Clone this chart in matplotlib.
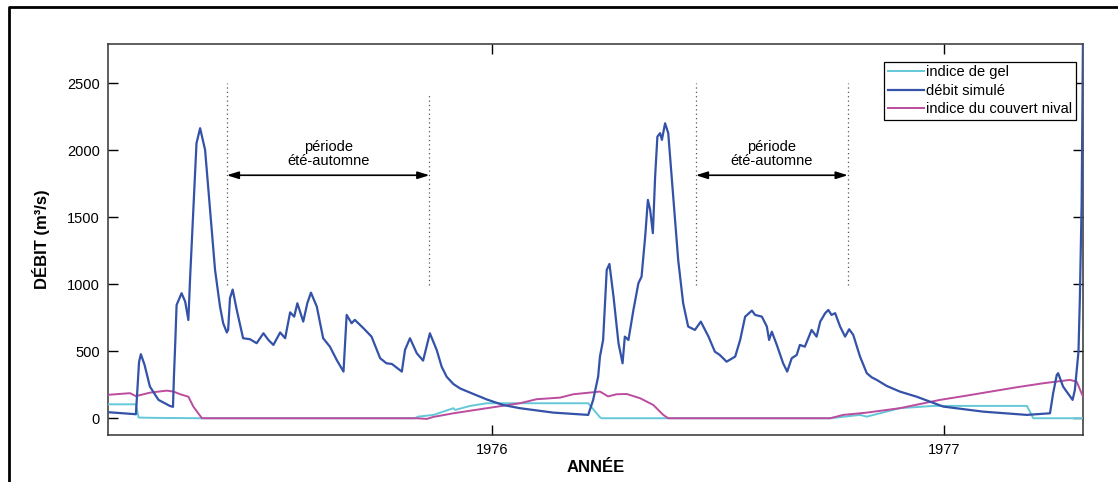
import matplotlib
matplotlib.use("Agg")
import matplotlib.pyplot as plt
from matplotlib.lines import Line2D

plt.rcParams['font.family'] = ['Liberation Sans', 'DejaVu Sans']

# ---- data (decimal year, m3/s) ----
debit_x = [1975.152, 1975.180, 1975.213, 1975.216, 1975.220, 1975.224, 1975.232, 1975.244, 1975.263, 1975.288,
           1975.295, 1975.297, 1975.300, 1975.303, 1975.314, 1975.322, 1975.329, 1975.333, 1975.340, 1975.347,
           1975.355, 1975.366, 1975.377, 1975.388, 1975.399, 1975.406, 1975.414, 1975.417, 1975.421, 1975.427,
           1975.436, 1975.450, 1975.465, 1975.480, 1975.495, 1975.506, 1975.517, 1975.532, 1975.543, 1975.554,
           1975.563, 1975.570, 1975.583, 1975.592, 1975.600, 1975.613, 1975.627, 1975.642, 1975.657, 1975.672,
           1975.679, 1975.690, 1975.697, 1975.716, 1975.734, 1975.753, 1975.767, 1975.779, 1975.801, 1975.808,
           1975.819, 1975.834, 1975.848, 1975.863, 1975.878, 1975.889, 1975.900, 1975.915, 1975.930, 1975.952,
           1975.989, 1976.025, 1976.062, 1976.136, 1976.213, 1976.224, 1976.235, 1976.239, 1976.246, 1976.254,
           1976.260, 1976.269, 1976.280, 1976.289, 1976.294, 1976.302, 1976.313, 1976.324, 1976.331, 1976.339,
           1976.345, 1976.350, 1976.356, 1976.361, 1976.366, 1976.372, 1976.376, 1976.383, 1976.390, 1976.401,
           1976.412, 1976.423, 1976.434, 1976.449, 1976.462, 1976.479, 1976.493, 1976.504, 1976.519, 1976.538,
           1976.549, 1976.560, 1976.575, 1976.582, 1976.597, 1976.608, 1976.613, 1976.619, 1976.630, 1976.644,
           1976.653, 1976.663, 1976.674, 1976.681, 1976.692, 1976.707, 1976.718, 1976.726, 1976.737, 1976.744,
           1976.751, 1976.759, 1976.770, 1976.781, 1976.790, 1976.799, 1976.814, 1976.829, 1976.840, 1976.851,
           1976.873, 1976.902, 1976.939, 1976.998, 1977.087, 1977.183, 1977.234, 1977.241, 1977.249, 1977.252,
           1977.263, 1977.284, 1977.289, 1977.297, 1977.300, 1977.304, 1977.307]
debit_y = [45, 38, 30, 200, 420, 478, 400, 236, 137, 92,
           85, 300, 560, 845, 933, 870, 733, 1057, 1555, 2052,
           2164, 2002, 1555, 1107, 833, 709, 640, 660, 895, 960,
           808, 597, 590, 560, 634, 584, 547, 640, 597, 790,
           758, 858, 721, 858, 937, 833, 597, 534, 435, 348,
           771, 709, 734, 672, 609, 448, 410, 405, 348, 510,
           597, 485, 430, 634, 510, 385, 310, 255, 222, 191,
           140, 99, 75, 42, 25, 137, 310, 460, 584, 1107,
           1151, 907, 560, 410, 609, 584, 808, 1007, 1057, 1355,
           1629, 1555, 1381, 1803, 2101, 2127, 2077, 2201, 2127, 1654,
           1181, 858, 684, 659, 721, 609, 497, 472, 422, 460,
           584, 758, 803, 771, 758, 684, 584, 646, 547, 410,
           348, 448, 472, 547, 534, 659, 609, 721, 784, 808,
           771, 784, 684, 609, 664, 622, 460, 336, 305, 286,
           241, 199, 161, 87, 49, 25, 37, 187, 323, 336,
           236, 137, 211, 497, 884, 1600, 2850]

neige_x = [1975.152, 1975.200, 1975.213, 1975.244, 1975.281, 1975.296, 1975.311, 1975.329, 1975.340, 1975.359,
           1975.834, 1975.856, 1975.871, 1975.915, 1975.989, 1976.062, 1976.099, 1976.151, 1976.180, 1976.239,
           1976.257, 1976.276, 1976.298, 1976.328, 1976.357, 1976.379, 1976.390, 1976.748, 1976.777, 1976.829,
           1976.902, 1976.991, 1977.050, 1977.160, 1977.219, 1977.278, 1977.293, 1977.307]
neige_y = [175, 187, 165, 191, 206, 199, 179, 161, 87, 0,
           0, -5, 10, 37, 75, 112, 142, 154, 179, 199,
           163, 179, 181, 149, 99, 25, 0, 0, 25, 42,
           75, 137, 169, 231, 261, 286, 273, 161]

gel_x = [1975.152, 1975.213, 1975.219, 1975.250, 1975.359, 1975.830, 1975.837, 1975.871, 1975.915, 1975.919,
         1975.952, 1975.989, 1976.213, 1976.239, 1976.243, 1976.748, 1976.814, 1976.829, 1976.902, 1976.976,
         1977.183, 1977.197, 1977.307]
gel_y = [104, 104, 5, 3, 0, 0, 12, 25, 75, 62,
         92, 112, 112, 7, 0, 0, 25, 12, 75, 92,
         92, 0, 0]

periode_debut = [1975.414, 1976.451]
periode_fin = [1975.862, 1976.787]
periode_haut_debut = [2500, 2500]
periode_haut_fin = [2420, 2500]
periode_bas = 995
fleche_y = 1813

labels = ['indice de gel', 'débit simulé', 'indice du couvert nival']
colors = ['#64c8d8', '#3352a8', '#bb4c9e']
xticks = [1976, 1977]
yticks = [0, 500, 1000, 1500, 2000, 2500]

fig = plt.figure(figsize=(11.18, 4.82), dpi=100)
ax = fig.add_axes([108.3 / 1118, 1 - 435 / 482, (1083 - 108.3) / 1118, (435 - 44.3) / 482])

ax.plot(gel_x, gel_y, color=colors[0], lw=1.4, label=labels[0], zorder=3)
ax.plot(debit_x, debit_y, color=colors[1], lw=1.6, label=labels[1], zorder=4)
ax.plot(neige_x, neige_y, color=colors[2], lw=1.4, label=labels[2], zorder=3)

for xs, xe, hs, he in zip(periode_debut, periode_fin, periode_haut_debut, periode_haut_fin):
    ax.plot([xs, xs], [periode_bas, hs], color='#555555', ls=(0, (1, 2.5)), lw=0.9)
    ax.plot([xe, xe], [periode_bas, he], color='#555555', ls=(0, (1, 2.5)), lw=0.9)
    ax.annotate('', xy=(xs, fleche_y), xytext=(xe, fleche_y),
                arrowprops=dict(arrowstyle='<|-|>,head_length=0.7,head_width=0.22',
                                color='black', lw=1.2, shrinkA=0, shrinkB=0))
    ax.text((xs + xe) / 2, fleche_y + 55, 'période\nété-automne', ha='center', va='bottom',
            fontsize=10.5, linespacing=1.0, color='black')

ax.set_xlim(1975.152, 1977.307)
ax.set_ylim(-125, 2790)
ax.set_xticks(xticks)
ax.set_xticklabels([str(t) for t in xticks])
ax.set_yticks(yticks)
ax.tick_params(direction='in', length=7, width=1, top=True, right=True, labelsize=10.5, pad=6)
for s in ax.spines.values():
    s.set_color('#333333')
    s.set_linewidth(1.1)

ax.set_ylabel('DÉBIT (m³/s)', fontsize=12, fontweight='bold', labelpad=12)
ax.set_xlabel('ANNÉE', fontsize=12, fontweight='bold', labelpad=2)

leg = ax.legend(loc='upper right', bbox_to_anchor=(0.9928, 0.9555), borderaxespad=0,
                fontsize=10.5, handlelength=2.5, handletextpad=0.15, borderpad=0.25,
                labelspacing=0.3, fancybox=False, framealpha=1)
leg.get_frame().set_edgecolor('black')
leg.get_frame().set_linewidth(0.9)

# outer frame
fig.add_artist(Line2D([9 / 1118, 9 / 1118, 1.0], [0.0, 1 - 7 / 482, 1 - 7 / 482],
                      transform=fig.transFigure, color='black', lw=2))

fig.savefig('out.png', dpi=100)
